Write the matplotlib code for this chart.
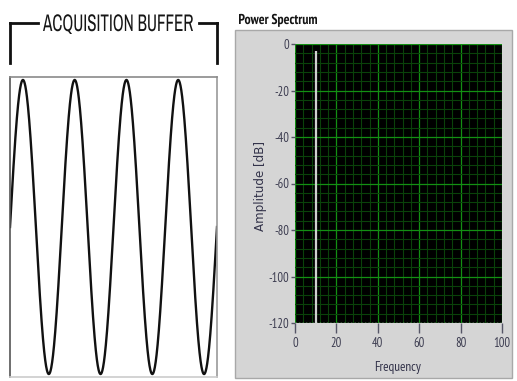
import numpy as np
import matplotlib
matplotlib.use("Agg")
import matplotlib.pyplot as plt
from matplotlib.patches import Rectangle, PathPatch
from matplotlib.lines import Line2D
from matplotlib.textpath import TextPath
from matplotlib.font_manager import FontProperties
from matplotlib.transforms import Affine2D
from matplotlib.ticker import MultipleLocator

plt.rcParams["axes.unicode_minus"] = False

# %% data
n_cycles = 4                      # whole cycles in the acquisition buffer
peak_freq = [10]                  # spectrum line position
peak_db = [-3]                    # top of spectrum line (dB)
freq_range = (0, 100)
db_range = (-120, 0)
freq_ticks = [0, 20, 40, 60, 80, 100]
db_ticks = [0, -20, -40, -60, -80, -100, -120]

W, H = 517, 381
fig = plt.figure(figsize=(W / 100, H / 100), dpi=100)
fig.patch.set_facecolor("white")

def fx(px):
    return px / W

def fy(py):
    return 1 - py / H

def fitted_text(s, x0, x1, ytop, ybase, prop, color):
    # draw text squeezed into a pixel box (cap top to baseline)
    tp = TextPath((0, 0), s, size=100, prop=prop)
    cap = TextPath((0, 0), "H", size=100, prop=prop).get_extents()
    ext = tp.get_extents()
    sx = (x1 - x0) / ext.width
    sy = (ybase - ytop) / cap.height
    tr = (Affine2D().translate(-ext.x0, 0).scale(sx, sy)
          .translate(x0, H - ybase).scale(1 / W, 1 / H) + fig.transFigure)
    fig.add_artist(PathPatch(tp, transform=tr, facecolor=color, lw=0))

# %% left: acquisition buffer
axl = fig.add_axes([fx(10), fy(377), fx(207), 300 / H])
t = np.linspace(0, 1, 1200)
axl.plot(t, np.sin(2 * np.pi * n_cycles * t), color="#111111", lw=1.7)
axl.set_xlim(0, 1)
axl.set_ylim(-1.02, 1.02)
axl.set_xticks([])
axl.set_yticks([])
axl.spines["top"].set_color("#8a8a8a")
axl.spines["left"].set_color("#555555")
axl.spines["right"].set_color("#9a9a9a")
axl.spines["bottom"].set_color("#cccccc")
for s in axl.spines.values():
    s.set_linewidth(1.2)

# bracket above the buffer
bk = dict(color="#111111", lw=2, transform=fig.transFigure)
fig.add_artist(Line2D([fx(10), fx(10)], [fy(63), fy(23)], **bk))
fig.add_artist(Line2D([fx(10), fx(38)], [fy(23), fy(23)], **bk))
fig.add_artist(Line2D([fx(199), fx(217)], [fy(23), fy(23)], **bk))
fig.add_artist(Line2D([fx(217), fx(217)], [fy(23), fy(63)], **bk))
fitted_text("ACQUISITION BUFFER", 43, 193, 14.5, 31,
            FontProperties(family="Archivo Narrow"), "#161616")

# %% right: power spectrum panel
fig.add_artist(Rectangle((fx(235), fy(378)), fx(277), 348 / H,
                         transform=fig.transFigure, facecolor="#d5d5d5",
                         edgecolor="#a8a8a8", lw=1, zorder=0))
fitted_text("Power Spectrum", 239, 317, 14, 24,
            FontProperties(family="PT Sans Narrow", weight="bold"), "#151515")

axr = fig.add_axes([fx(295), fy(323), fx(207), 279 / H])
axr.set_facecolor("black")
axr.set_xlim(*freq_range)
axr.set_ylim(*db_range)
axr.set_xticks(freq_ticks)
axr.set_yticks(db_ticks)
axr.xaxis.set_minor_locator(MultipleLocator(4))
axr.yaxis.set_minor_locator(MultipleLocator(4))
axr.grid(which="minor", color="#0a420a", lw=0.8)
axr.grid(which="major", color="#139013", lw=0.9)
axr.set_axisbelow(True)
axr.vlines(peak_freq, db_range[0], peak_db, color="#d0d0d0", lw=1.6, zorder=3)

for s in axr.spines.values():
    s.set_visible(False)
axr.axhline(db_range[0], color="white", lw=1, ls=(0, (1, 1.5)), zorder=4)

tick_font = "PT Sans Narrow"
axr.tick_params(which="minor", length=0)
axr.tick_params(axis="y", which="major", length=3, width=1, color="#555566",
                labelsize=9, labelcolor="#3c3c50", pad=1)
axr.tick_params(axis="x", which="major", length=7, width=1, color="#555566",
                labelsize=9, labelcolor="#3c3c50", pad=3)
for lbl in axr.get_xticklabels() + axr.get_yticklabels():
    lbl.set_family(tick_font)

fig.text(fx(260.5), fy(186), "Amplitude [dB]", rotation=90, ha="center",
         va="center", fontsize=8.6, color="#33334a", family="DejaVu Sans")
fig.text(fx(398), fy(367), "Frequency", ha="center", va="center",
         fontsize=9.5, color="#33334a", family="PT Sans Narrow")

fig.savefig("out.png", dpi=100, facecolor="white")
